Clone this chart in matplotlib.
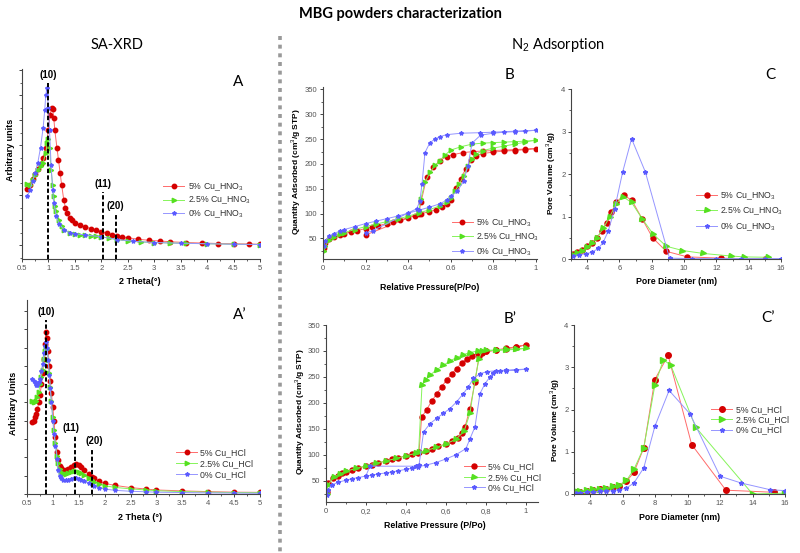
import matplotlib
matplotlib.use("Agg")
import matplotlib.pyplot as plt
from matplotlib.lines import Line2D
from matplotlib.ticker import AutoMinorLocator, FixedLocator, FuncFormatter

plt.rcParams['font.family'] = ['Liberation Sans', 'DejaVu Sans']
plt.rcParams['mathtext.fontset'] = 'custom'
plt.rcParams['mathtext.rm'] = 'Liberation Sans'

W, H = 800, 553

# ---------------- data ----------------
# A : SA-XRD, HNO3 series
xrd_a_red_x = [0.6, 0.65, 0.7, 0.75, 0.8, 0.85, 0.9, 0.95, 1.0, 1.03, 1.06, 1.08, 1.1, 1.12, 1.16, 1.19,
               1.22, 1.25, 1.29, 1.32, 1.35, 1.4, 1.44, 1.5, 1.6, 1.7, 1.8, 1.9, 2.0, 2.1, 2.2, 2.3, 2.4,
               2.5, 2.7, 2.9, 3.1, 3.3, 3.6, 3.9, 4.2, 4.5, 4.8, 5.0]
xrd_a_red_y = [2.25, 2.4, 2.65, 2.85, 3.05, 3.25, 3.5, 3.9, 4.6, 5.2, 5.5, 5.45, 5.1, 4.6, 3.9, 3.4,
               2.9, 2.4, 1.8, 1.5, 1.27, 1.1, 1.0, 0.9, 0.8, 0.72, 0.66, 0.6, 0.53, 0.47, 0.42, 0.37, 0.33,
               0.29, 0.23, 0.19, 0.16, 0.13, 0.1, 0.08, 0.06, 0.05, 0.04, 0.03]
xrd_a_green_x = [0.6, 0.65, 0.7, 0.75, 0.8, 0.85, 0.9, 0.95, 0.98, 1.0, 1.02, 1.05, 1.08, 1.1, 1.13, 1.15,
                 1.2, 1.25, 1.3, 1.4, 1.5, 1.6, 1.7, 1.8, 1.9, 2.0, 2.15, 2.3, 2.5, 2.75, 3.0, 3.3, 3.6,
                 4.0, 4.5, 5.0]
xrd_a_green_y = [2.45, 2.4, 2.6, 2.8, 3.0, 3.15, 3.3, 3.7, 4.1, 4.25, 3.9, 3.0, 2.4, 1.95, 1.55, 1.35,
                 1.0, 0.75, 0.6, 0.5, 0.45, 0.42, 0.4, 0.37, 0.35, 0.33, 0.27, 0.22, 0.16, 0.12, 0.1, 0.08, 0.07,
                 0.05, 0.03, 0.02]
xrd_a_blue_x = [0.6, 0.65, 0.7, 0.75, 0.8, 0.85, 0.9, 0.93, 0.95, 0.97, 1.0, 1.02, 1.05, 1.08, 1.1, 1.15,
                1.2, 1.3, 1.4, 1.5, 1.7, 2.0, 2.3, 2.6, 3.0, 3.5, 4.0, 4.5, 5.0]
xrd_a_blue_y = [1.95, 2.2, 2.55, 2.9, 3.3, 3.9, 4.7, 5.4, 6.0, 6.27, 5.5, 4.6, 3.2, 2.2, 1.7, 1.15,
                0.85, 0.6, 0.5, 0.45, 0.4, 0.33, 0.22, 0.15, 0.1, 0.07, 0.05, 0.03, 0.02]
xrd_a_peaks = [1.0, 2.03, 2.27]
xrd_a_peak_tops = [6.5, 2.13, 1.27]
xrd_a_peak_names = ['(10)', '(11)', '(20)']

# A' : SA-XRD, HCl series
xrd_b_x = [0.6, 0.63, 0.65, 0.68, 0.7, 0.73, 0.75, 0.78, 0.8, 0.83, 0.85, 0.87, 0.89, 0.91, 0.93, 0.95,
           0.97, 1.0, 1.02, 1.05, 1.08, 1.1, 1.13, 1.15, 1.2, 1.25, 1.3, 1.35, 1.4, 1.45, 1.5, 1.55, 1.6,
           1.7, 1.75, 1.8, 1.9, 2.0, 2.2, 2.5, 2.8, 3.0, 3.5, 4.0, 4.5, 5.0]
xrd_b_red_y = [3.95, 4.0, 4.2, 4.35, 4.65, 5.0, 5.4, 6.0, 6.6, 7.4, 8.2, 8.85, 8.5, 7.8, 7.0, 6.2,
               5.5, 4.76, 4.0, 3.1, 2.3, 1.85, 1.55, 1.42, 1.3, 1.3, 1.38, 1.48, 1.6, 1.65, 1.6, 1.48, 1.32,
               1.08, 0.95, 0.85, 0.7, 0.58, 0.47, 0.35, 0.27, 0.22, 0.17, 0.13, 0.1, 0.09]
xrd_b_green_y = [5.1, 5.0, 5.0, 5.1, 5.3, 5.6, 6.0, 6.4, 6.8, 7.4, 7.8, 8.0, 7.9, 7.3, 6.6, 5.85,
                 5.1, 4.2, 3.5, 2.76, 2.1, 1.67, 1.35, 1.22, 1.1, 1.1, 1.15, 1.2, 1.25, 1.27, 1.22, 1.13, 1.04,
                 0.85, 0.76, 0.68, 0.55, 0.45, 0.36, 0.28, 0.22, 0.18, 0.13, 0.1, 0.08, 0.07]
xrd_b_blue_y = [6.3, 6.2, 6.1, 5.95, 5.95, 6.1, 6.3, 6.7, 7.1, 7.7, 8.1, 8.3, 8.0, 7.3, 6.5, 5.8,
                5.0, 4.0, 3.3, 2.6, 1.9, 1.3, 1.0, 0.88, 0.76, 0.74, 0.78, 0.82, 0.85, 0.85, 0.82, 0.76, 0.7,
                0.58, 0.5, 0.43, 0.34, 0.27, 0.2, 0.15, 0.12, 0.1, 0.08, 0.06, 0.05, 0.04]
xrd_b_peaks = [0.87, 1.43, 1.75]
xrd_b_peak_tops = [9.5, 3.2, 2.5]

# B : N2 isotherms, HNO3 (adsorption then desorption)
iso_a_red_p = [0.005, 0.01, 0.03, 0.05, 0.08, 0.1, 0.13, 0.16, 0.2, 0.23, 0.26, 0.3, 0.33, 0.36, 0.4, 0.43,
               0.46, 0.5, 0.53, 0.56, 0.58, 0.6, 0.623, 0.646, 0.67, 0.693, 0.72, 0.75, 0.8, 0.85, 0.9, 0.95,
               1.0, 0.95, 0.9, 0.85, 0.8, 0.75, 0.706, 0.659, 0.612, 0.58, 0.549, 0.518, 0.487, 0.46, 0.45, 0.2]
iso_a_red_q = [30, 40, 48, 53, 57, 60, 63, 66, 70, 73, 76, 80, 83, 87, 92, 96,
               100, 104, 108, 113, 120, 128, 151, 170, 190, 208, 217, 221, 224, 226, 227, 229,
               231, 230, 229, 228, 227, 226, 225, 223, 219, 215, 207, 193, 173, 123, 100, 57]
iso_a_green_p = [0.005, 0.01, 0.03, 0.05, 0.08, 0.1, 0.15, 0.2, 0.25, 0.3, 0.35, 0.4, 0.45, 0.5, 0.55, 0.58,
                 0.6, 0.62, 0.64, 0.66, 0.68, 0.7, 0.72, 0.75, 0.8, 0.85, 0.9, 0.95, 1.0,
                 0.95, 0.9, 0.85, 0.8, 0.75, 0.7, 0.65, 0.6, 0.573, 0.549, 0.526, 0.502, 0.479, 0.46, 0.45]
iso_a_green_q = [25, 35, 47, 54, 59, 62, 68, 74, 79, 84, 89, 95, 101, 108, 116, 124,
                 132, 145, 160, 175, 195, 210, 220, 227, 232, 236, 240, 244, 248,
                 246, 245, 244, 243, 242, 240, 235, 228, 218, 207, 197, 183, 163, 130, 105]
iso_a_blue_p = [0.005, 0.01, 0.03, 0.05, 0.08, 0.1, 0.15, 0.2, 0.25, 0.3, 0.35, 0.4, 0.45, 0.5, 0.55, 0.58,
                0.6, 0.63, 0.66, 0.68, 0.7, 0.74, 0.8, 0.85, 0.9, 0.95, 1.0,
                0.9, 0.8, 0.737, 0.65, 0.58, 0.549, 0.526, 0.502, 0.479, 0.465, 0.455, 0.44, 0.235, 0.2]
iso_a_blue_q = [35, 45, 55, 60, 65, 68, 74, 80, 85, 90, 95, 101, 107, 113, 120, 127,
                135, 145, 165, 195, 242, 258, 262, 264, 265, 266, 268,
                266, 264, 263, 262, 259, 255, 250, 243, 223, 160, 125, 110, 66, 61]

# B' : N2 isotherms, HCl
iso_b_red_p = [0.003, 0.01, 0.035, 0.06, 0.08, 0.1, 0.13, 0.16, 0.2, 0.23, 0.26, 0.3, 0.33, 0.36, 0.4, 0.43,
               0.46, 0.5, 0.53, 0.56, 0.6, 0.63, 0.66, 0.68, 0.695, 0.72, 0.745, 0.765, 0.78, 0.8, 0.85, 0.9,
               0.95, 1.0, 0.95, 0.9, 0.85, 0.8, 0.76, 0.73, 0.703, 0.678, 0.653, 0.628, 0.603, 0.578, 0.553,
               0.528, 0.503, 0.478, 0.465]
iso_b_red_q = [28, 45, 55, 60, 64, 67, 71, 74, 78, 81, 84, 88, 91, 94, 98, 101,
               104, 108, 112, 116, 121, 127, 133, 141, 154, 189, 240, 290, 297, 299, 301, 304,
               307, 312, 308, 305, 302, 299, 296, 291, 285, 277, 266, 256, 244, 231, 217,
               203, 187, 172, 105]
iso_b_green_p = [0.003, 0.01, 0.04, 0.07, 0.1, 0.15, 0.2, 0.25, 0.3, 0.35, 0.4, 0.45, 0.5, 0.55, 0.6, 0.65,
                 0.69, 0.72, 0.745, 0.765, 0.78, 0.85, 0.9, 0.95, 1.0,
                 0.95, 0.9, 0.85, 0.8, 0.76, 0.72, 0.687, 0.653, 0.62, 0.587, 0.553, 0.52, 0.5, 0.48, 0.463]
iso_b_green_q = [25, 42, 57, 63, 68, 74, 79, 84, 88, 93, 98, 103, 108, 114, 121, 130,
                 145, 180, 245, 285, 300, 301, 302, 303, 305,
                 304, 303, 302, 301, 300, 297, 293, 287, 281, 272, 264, 253, 245, 234, 105]
iso_b_blue_p = [0.003, 0.01, 0.03, 0.06, 0.1, 0.13, 0.16, 0.2, 0.23, 0.26, 0.3, 0.33, 0.36, 0.4, 0.43, 0.46,
                0.5, 0.55, 0.6, 0.65, 0.7, 0.72, 0.745, 0.77, 0.795, 0.82, 0.837, 0.87, 0.9, 0.95, 1.0,
                0.95, 0.9, 0.85, 0.803, 0.77, 0.737, 0.712, 0.687, 0.653, 0.62, 0.587, 0.553, 0.52, 0.488,
                0.465, 0.45, 0.22, 0.2]
iso_b_blue_q = [22, 33, 42, 47, 51, 54, 56, 59, 61, 63, 65, 67, 69, 72, 74, 77,
                80, 85, 92, 100, 112, 131, 154, 218, 237, 250, 258, 261, 262, 263, 265,
                264, 263, 262, 260, 256, 247, 231, 218, 202, 189, 180, 170, 160, 144,
                80, 78, 78, 60]

# C : pore size distribution, HNO3
psd_a_red_d = [3.1, 3.4, 3.7, 4.0, 4.3, 4.6, 4.9, 5.2, 5.5, 5.8, 6.25, 6.75, 7.4, 8.05, 8.9, 10.2, 12.3, 13.7, 15.0]
psd_a_red_v = [0.12, 0.17, 0.22, 0.3, 0.38, 0.5, 0.65, 0.85, 1.1, 1.33, 1.5, 1.39, 0.95, 0.5, 0.18, 0.05, 0.02, 0.01, 0.01]
psd_a_green_d = [3.1, 3.4, 3.7, 4.0, 4.3, 4.6, 5.0, 5.4, 5.8, 6.2, 6.75, 7.4, 8.1, 8.9, 9.9, 11.2, 12.9, 13.7, 15.2]
psd_a_green_v = [0.1, 0.15, 0.2, 0.28, 0.38, 0.5, 0.72, 1.0, 1.3, 1.47, 1.33, 0.95, 0.58, 0.3, 0.2, 0.13, 0.07, 0.05, 0.04]
psd_a_blue_d = [3.1, 3.5, 3.9, 4.3, 4.7, 5.0, 5.3, 5.7, 6.2, 6.75, 7.6, 9.1, 10.5, 12.0, 13.5, 15.0, 16.0]
psd_a_blue_v = [0.08, 0.1, 0.12, 0.16, 0.25, 0.4, 0.65, 1.18, 2.05, 2.83, 2.05, 0.02, 0.01, 0.01, 0.01, 0.01, 0.01]

# C' : pore size distribution, HCl
psd_b_red_d = [3.1, 3.4, 3.8, 4.2, 4.6, 5.0, 5.4, 5.78, 6.23, 6.69, 7.3, 7.98, 8.8, 10.25, 12.36, 15.35]
psd_b_red_v = [0.04, 0.05, 0.07, 0.09, 0.11, 0.13, 0.16, 0.2, 0.3, 0.51, 1.09, 2.71, 3.28, 1.17, 0.09, 0.04]
psd_b_green_d = [3.1, 3.4, 3.8, 4.2, 4.6, 5.0, 5.4, 5.8, 6.23, 6.69, 7.3, 7.98, 8.5, 8.95, 10.5, 14.0, 16.0]
psd_b_green_v = [0.06, 0.07, 0.09, 0.11, 0.13, 0.15, 0.18, 0.22, 0.32, 0.58, 1.1, 2.57, 3.17, 3.06, 1.58, 0.0, 0.02]
psd_b_blue_d = [3.1, 3.4, 3.8, 4.2, 4.6, 5.0, 5.4, 5.8, 6.23, 6.69, 7.3, 7.98, 8.86, 10.14, 12.0, 13.3, 15.1, 16.0]
psd_b_blue_v = [0.02, 0.03, 0.04, 0.05, 0.06, 0.07, 0.08, 0.1, 0.14, 0.26, 0.62, 1.6, 2.45, 1.9, 0.42, 0.26, 0.1, 0.08]

hno3_labels = ['5% Cu_HNO$_3$', '2.5% Cu_HNO$_3$', '0% Cu_HNO$_3$']
hcl_labels = ['5% Cu_HCl', '2.5% Cu_HCl', '0% Cu_HCl']

# ---------------- styles ----------------
RED = dict(color='#ff6b6b', marker='o', mfc='#d40000', mec='#d40000')
GREEN = dict(color='#86f45a', marker='>', mfc='#55e020', mec='#55e020')
BLUE = dict(color='#9595ff', marker='*', mfc='#5a5aff', mec='#5a5aff')
TICK_C = '#555555'

fig = plt.figure(figsize=(W / 100, H / 100), dpi=100)


def px_axes(x0, y0, x1, y1):
    ax = fig.add_axes([x0 / W, 1 - y1 / H, (x1 - x0) / W, (y1 - y0) / H])
    for s in ('top', 'right'):
        ax.spines[s].set_visible(False)
    for s in ('left', 'bottom'):
        ax.spines[s].set_color('#444444')
        ax.spines[s].set_linewidth(0.8)
    ax.tick_params(which='both', direction='out', colors='#444444', labelcolor=TICK_C,
                   labelsize=5.5, pad=1.5)
    ax.tick_params(which='major', length=2.5, width=0.7)
    ax.tick_params(which='minor', length=1.5, width=0.6)
    ax.patch.set_alpha(0)
    return ax


def ftext(x, y, s, **kw):
    fig.text(x / W, 1 - y / H, s, **kw)


def series(ax, x, y, style, label, ms, lw=0.7):
    ax.plot(x, y, lw=lw, ms=ms, label=label, **style)


def add_legend(ax, x, y, fs=6.3, spacing=0.25):
    ax.legend(loc='upper left', bbox_to_anchor=(x / W, 1 - y / H), bbox_transform=fig.transFigure,
              frameon=False, fontsize=fs, numpoints=1, handlelength=2.4, handletextpad=0.4,
              labelspacing=spacing, borderpad=0, borderaxespad=0, labelcolor='#333333')


gfmt = FuncFormatter(lambda v, p: '{:g}'.format(v))
comma_fmt = FuncFormatter(lambda v, p: '{:g}'.format(v).replace('.', ','))

# ---------------- headers ----------------
ftext(400, 14, 'MBG powders characterization', ha='center', va='center', fontsize=10.5,
      fontweight='bold', family=['Lato', 'DejaVu Sans'])
ftext(117, 45, 'SA-XRD', ha='center', va='center', fontsize=10.5, family=['Lato', 'DejaVu Sans'])
ftext(558, 45, 'N$_2$ Adsorption', ha='center', va='center', fontsize=10.5, family=['Lato', 'DejaVu Sans'])
fig.add_artist(Line2D([280 / W, 280 / W], [1 - 36 / H, 0], transform=fig.transFigure,
                      color='#999999', lw=2.6, dashes=(1.1, 1.3)))

# ---------------- panel A ----------------
axA = px_axes(22, 69, 260, 259)
series(axA, xrd_a_red_x, xrd_a_red_y, RED, hno3_labels[0], 3.2)
series(axA, xrd_a_green_x, xrd_a_green_y, GREEN, hno3_labels[1], 3.2)
series(axA, xrd_a_blue_x, xrd_a_blue_y, BLUE, hno3_labels[2], 3.0)
axA.set_xlim(0.5, 5.0)
axA.set_ylim(-0.56, 7.04)
axA.xaxis.set_major_locator(FixedLocator([0.5 + 0.5 * i for i in range(10)]))
axA.xaxis.set_major_formatter(gfmt)
axA.xaxis.set_minor_locator(AutoMinorLocator(2))
axA.yaxis.set_major_locator(FixedLocator(list(range(8))))
axA.yaxis.set_minor_locator(AutoMinorLocator(2))
axA.set_yticklabels([])
for xp, top, name in zip(xrd_a_peaks, xrd_a_peak_tops, xrd_a_peak_names):
    axA.plot([xp, xp], [-0.56, top], color='black', lw=1.4, dashes=(2.2, 1.2), zorder=5)
    axA.text(xp, top + 0.1, name, ha='center', va='bottom', fontsize=7, fontweight='bold')
add_legend(axA, 163, 181)
ftext(238, 82, 'A', ha='center', va='center', fontsize=11, family=['Lato', 'DejaVu Sans'])
ftext(11, 150, 'Arbitrary units', rotation=90, ha='center', va='center', fontsize=6.5, fontweight='bold')
ftext(140, 282, '2 Theta(°)', ha='center', va='center', fontsize=6.5, fontweight='bold')

# ---------------- panel A' ----------------
axA2 = px_axes(27, 300, 260, 494)
series(axA2, xrd_b_x, xrd_b_red_y, RED, hcl_labels[0], 3.2)
series(axA2, xrd_b_x, xrd_b_green_y, GREEN, hcl_labels[1], 3.2)
series(axA2, xrd_b_x, xrd_b_blue_y, BLUE, hcl_labels[2], 3.0)
axA2.set_xlim(0.5, 5.0)
axA2.set_ylim(0, 10.6)
axA2.xaxis.set_major_locator(FixedLocator([0.5 + 0.5 * i for i in range(10)]))
axA2.xaxis.set_major_formatter(gfmt)
axA2.xaxis.set_minor_locator(AutoMinorLocator(2))
axA2.yaxis.set_major_locator(FixedLocator(list(range(11))))
axA2.set_yticklabels([])
for xp, top, name in zip(xrd_b_peaks, xrd_b_peak_tops, xrd_a_peak_names):
    axA2.plot([xp, xp], [0, top], color='black', lw=1.4, dashes=(2.2, 1.2), zorder=5)
    dx = {'(11)': -0.08, '(20)': 0.05}.get(name, 0)
    axA2.text(xp + dx, top + 0.15, name, ha='center', va='bottom', fontsize=7, fontweight='bold')
add_legend(axA2, 176, 448)
ftext(240, 315, "A\u2019", ha='center', va='center', fontsize=11, family=['Lato', 'DejaVu Sans'])
ftext(13, 403, 'Arbitrary Units', rotation=90, ha='center', va='center', fontsize=6.5, fontweight='bold')
ftext(140, 517, '2 Theta (°)', ha='center', va='center', fontsize=6.5, fontweight='bold')

# ---------------- panel B ----------------
axB = px_axes(323, 87, 537, 259)
series(axB, iso_a_red_p, iso_a_red_q, RED, hno3_labels[0], 3.2)
series(axB, iso_a_green_p, iso_a_green_q, GREEN, hno3_labels[1], 3.2)
series(axB, iso_a_blue_p, iso_a_blue_q, BLUE, hno3_labels[2], 3.0)
axB.set_xlim(0, 1.005)
axB.set_ylim(8.7, 355)
axB.set_xticks([0, 0.2, 0.4, 0.6, 0.8, 1.0])
axB.xaxis.set_major_formatter(gfmt)
axB.xaxis.set_minor_locator(AutoMinorLocator(2))
axB.set_yticks([50, 100, 150, 200, 250, 300, 350])
axB.yaxis.set_minor_locator(AutoMinorLocator(2))
add_legend(axB, 452, 217, fs=6.3, spacing=0.35)
ftext(510, 75, 'B', ha='center', va='center', fontsize=11, family=['Lato', 'DejaVu Sans'])
ftext(296, 172, 'Quantity Adsorbed (cm$^3$/g STP)', rotation=90, ha='center', va='center',
      fontsize=6, fontweight='bold')
ftext(430, 287, 'Relative Pressure(P/Po)', ha='center', va='center', fontsize=6.3, fontweight='bold')

# ---------------- panel B' ----------------
axB2 = px_axes(326, 325, 538, 502)
series(axB2, iso_b_red_p, iso_b_red_q, RED, hcl_labels[0], 3.6)
series(axB2, iso_b_green_p, iso_b_green_q, GREEN, hcl_labels[1], 3.6)
series(axB2, iso_b_blue_p, iso_b_blue_q, BLUE, hcl_labels[2], 3.2)
axB2.set_xlim(0, 1.06)
axB2.set_ylim(9, 350)
axB2.set_xticks([0, 0.2, 0.4, 0.6, 0.8, 1.0])
axB2.xaxis.set_major_formatter(comma_fmt)
axB2.xaxis.set_minor_locator(AutoMinorLocator(2))
axB2.set_yticks([50, 100, 150, 200, 250, 300, 350])
axB2.yaxis.set_minor_locator(AutoMinorLocator(2))
add_legend(axB2, 464, 462, fs=6.3, spacing=0.2)
ftext(510, 319, "B\u2019", ha='center', va='center', fontsize=11, family=['Lato', 'DejaVu Sans'])
ftext(300, 412, 'Quantity Adsorbed (cm$^3$/g STP)', rotation=90, ha='center', va='center',
      fontsize=6, fontweight='bold')
ftext(435, 525, 'Relative Pressure (P/Po)', ha='center', va='center', fontsize=6.3, fontweight='bold')

# ---------------- panel C ----------------
axC = px_axes(571, 89, 781, 259)
series(axC, psd_a_red_d, psd_a_red_v, RED, hno3_labels[0], 3.6)
series(axC, psd_a_green_d, psd_a_green_v, GREEN, hno3_labels[1], 3.6)
series(axC, psd_a_blue_d, psd_a_blue_v, BLUE, hno3_labels[2], 3.2)
axC.set_xlim(3, 16)
axC.set_ylim(0, 4)
axC.set_xticks([4, 6, 8, 10, 12, 14, 16])
axC.xaxis.set_minor_locator(AutoMinorLocator(2))
axC.set_yticks([0, 1, 2, 3, 4])
axC.yaxis.set_minor_locator(AutoMinorLocator(2))
add_legend(axC, 696, 190, fs=6.3, spacing=0.45)
ftext(770, 75, 'C', ha='center', va='center', fontsize=11, family=['Lato', 'DejaVu Sans'])
ftext(551, 173, 'Pore Volume (cm$^3$/g)', rotation=90, ha='center', va='center',
      fontsize=6, fontweight='bold')
ftext(677, 282, 'Pore Diameter (nm)', ha='center', va='center', fontsize=6.3, fontweight='bold')

# ---------------- panel C' ----------------
axC2 = px_axes(574, 325, 785, 494)
series(axC2, psd_b_red_d, psd_b_red_v, RED, hcl_labels[0], 4.0)
series(axC2, psd_b_green_d, psd_b_green_v, GREEN, hcl_labels[1], 4.0)
series(axC2, psd_b_blue_d, psd_b_blue_v, BLUE, hcl_labels[2], 3.4)
axC2.set_xlim(3, 16)
axC2.set_ylim(0, 4)
axC2.set_xticks([4, 6, 8, 10, 12, 14, 16])
axC2.xaxis.set_minor_locator(AutoMinorLocator(2))
axC2.set_yticks([0, 1, 2, 3, 4])
axC2.yaxis.set_minor_locator(AutoMinorLocator(2))
add_legend(axC2, 711, 405, fs=6.3, spacing=0.15)
ftext(768, 318, "C\u2019", ha='center', va='center', fontsize=11, family=['Lato', 'DejaVu Sans'])
ftext(555, 420, 'Pore Volume (cm$^3$/g)', rotation=90, ha='center', va='center',
      fontsize=6, fontweight='bold')
ftext(680, 518, 'Pore Diameter (nm)', ha='center', va='center', fontsize=6.3, fontweight='bold')

fig.savefig('out.png', dpi=100)
